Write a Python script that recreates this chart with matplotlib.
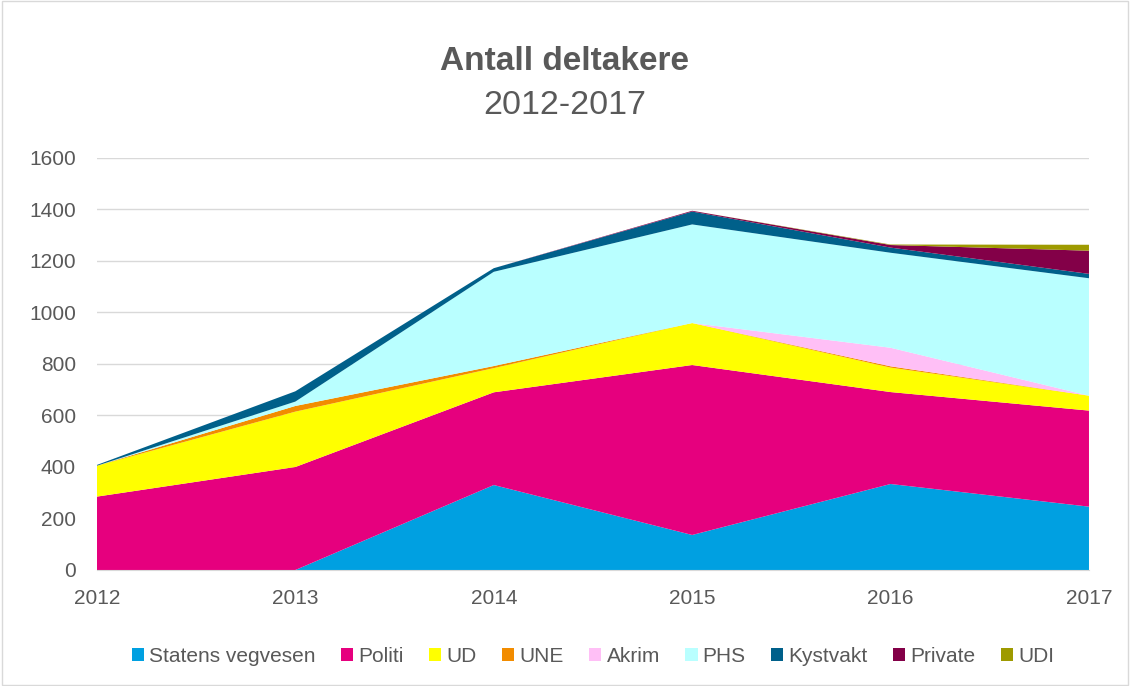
import numpy as np
import matplotlib.pyplot as plt
from matplotlib.patches import Rectangle

plt.rcParams['font.family'] = ['Liberation Sans', 'DejaVu Sans']

years = [2012, 2013, 2014, 2015, 2016, 2017]
series_names = ['Statens vegvesen', 'Politi', 'UD', 'UNE', 'Akrim', 'PHS',
                'Kystvakt', 'Private', 'UDI']
statens = [0, 0, 330, 136, 334, 246]
politi = [285, 400, 360, 660, 357, 373]
ud = [120, 215, 94, 163, 95, 58]
une = [0, 22, 8, 0, 5, 0]
akrim = [0, 0, 0, 0, 72, 0]
phs = [0, 17, 366, 383, 369, 456]
kystvakt = [3, 40, 14, 50, 20, 17]
private = [0, 0, 0, 3, 10, 90]
udi = [0, 0, 0, 0, 2, 23]
colors = ['#00A0E1', '#E6007E', '#FFFF00', '#F28C00', '#FFBFF6', '#B9FFFF',
          '#00608A', '#830048', '#9E9A00']

fig = plt.figure(figsize=(11.3, 6.86), dpi=100)
ax = fig.add_axes([0.0858, 0.1691, 0.8779, 0.6006])

ax.stackplot(years, statens, politi, ud, une, akrim, phs, kystvakt, private, udi,
             colors=colors, labels=series_names, linewidth=0)

ax.set_xlim(2012, 2017)
ax.set_ylim(0, 1600)
ax.set_yticks(range(0, 1601, 200))
ax.set_xticks(years)
ax.grid(axis='y', color='#D9D9D9', linewidth=1)
ax.set_axisbelow(True)
for s in ['top', 'right', 'left']:
    ax.spines[s].set_visible(False)
ax.spines['bottom'].set_color('#D9D9D9')
ax.tick_params(length=0, labelsize=15, colors='#595959')
ax.tick_params(axis='x', pad=14)
ax.tick_params(axis='y', pad=15)

fig.text(0.5, 0.911, 'Antall deltakere', ha='center', va='center',
         fontsize=24, fontweight='bold', color='#595959')
fig.text(0.5, 0.846, '2012-2017', ha='center', va='center',
         fontsize=24.5, color='#595959')

ax.legend(loc='center', bbox_to_anchor=(0.5, -0.21), ncol=9, frameon=False,
          fontsize=15, handlelength=0.6, handleheight=0.6, handletextpad=0.25,
          columnspacing=1.2, labelcolor='#595959')

fig.patches.append(Rectangle((0.002, 0.002), 0.996, 0.996, transform=fig.transFigure,
                             fill=False, edgecolor='#D9D9D9', linewidth=1))

fig.savefig('out.png', dpi=100)
